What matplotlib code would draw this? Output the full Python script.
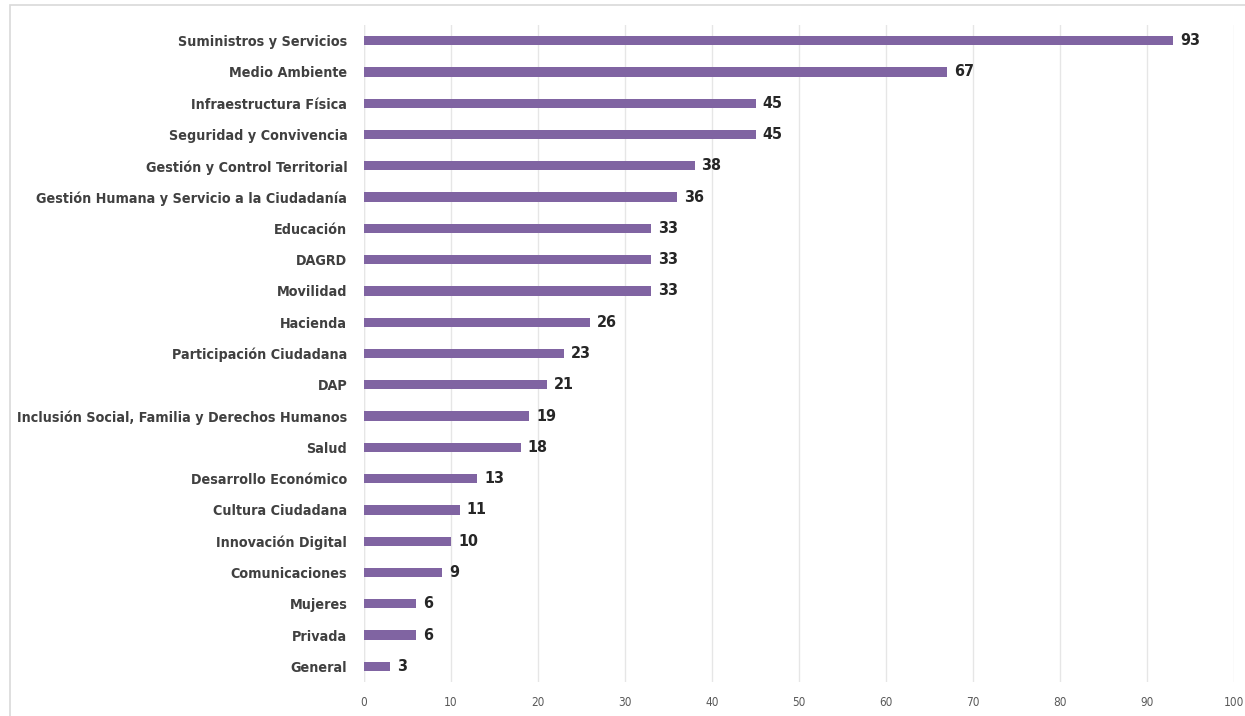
import matplotlib.pyplot as plt
from matplotlib.patches import Rectangle

# Temas y cantidad de registros por tema
temas = ['Suministros y Servicios', 'Medio Ambiente', 'Infraestructura Física',
         'Seguridad y Convivencia', 'Gestión y Control Territorial',
         'Gestión Humana y Servicio a la Ciudadanía', 'Educación', 'DAGRD',
         'Movilidad', 'Hacienda', 'Participación Ciudadana', 'DAP',
         'Inclusión Social, Familia y Derechos Humanos', 'Salud',
         'Desarrollo Económico', 'Cultura Ciudadana', 'Innovación Digital',
         'Comunicaciones', 'Mujeres', 'Privada', 'General']
cantidades = [93, 67, 45, 45, 38, 36, 33, 33, 33, 26, 23, 21, 19, 18, 13, 11, 10, 9, 6, 6, 3]
ticks_x = [0, 10, 20, 30, 40, 50, 60, 70, 80, 90, 100]

# DejaVu condensada para que los nombres largos quepan
plt.rcParams['font.family'] = ['DejaVu Sans']
plt.rcParams['font.stretch'] = 'condensed'

fig = plt.figure(figsize=(12.45, 7.16), dpi=100)
ax = fig.add_axes([364 / 1245, 1 - 682 / 716, (1234 - 364) / 1245, (682 - 25) / 716])

# marco del grafico
fig.patches.append(Rectangle((10 / 1245, -0.1), 1.2, 1 - 5 / 716 + 0.1,
                             transform=fig.transFigure, fill=False,
                             edgecolor='#d9d9d9', linewidth=1.2))

pos = list(range(len(temas)))
ax.barh(pos, cantidades, height=0.3, color='#8064a2', zorder=3)
for p, v in zip(pos, cantidades):
    ax.text(v + 0.8, p, str(v), va='center', ha='left', fontsize=11.5,
            fontweight='bold', color='#262626', fontstretch='condensed')

ax.set_yticks(pos)
ax.set_yticklabels(temas, fontsize=10.3, fontweight='bold', color='#404040',
                   fontstretch='condensed')
ax.set_ylim(len(temas) - 0.5, -0.5)
ax.set_xlim(0, 100)
ax.set_xticks(ticks_x)
ax.tick_params(axis='x', labelsize=8.5, colors='#595959', length=0, pad=10)
ax.tick_params(axis='y', length=0, pad=12)
ax.grid(axis='x', color='#e6e6e6', linewidth=1, zorder=0)
for s in ax.spines.values():
    s.set_visible(False)
ax.axvline(0, color='#e6e6e6', linewidth=1, zorder=1)

fig.savefig('out.png', dpi=100)
